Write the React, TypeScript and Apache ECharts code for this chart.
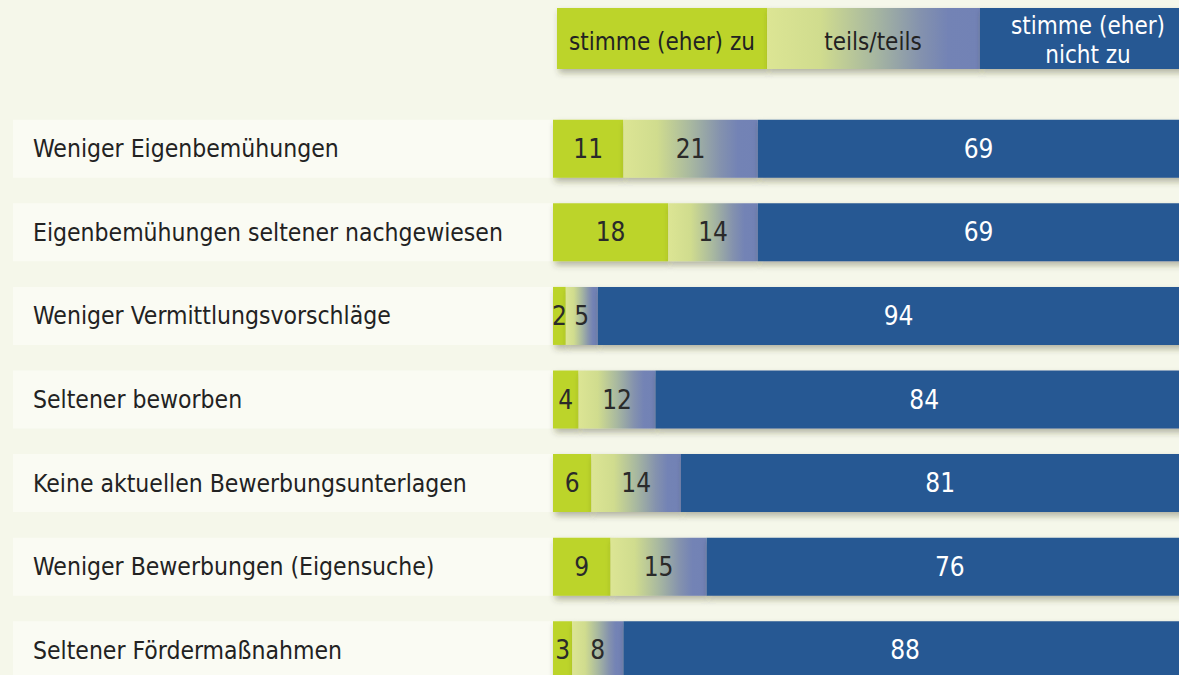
import React, { useEffect, useRef } from "react";
import * as echarts from "echarts";

const categories = [
  "Weniger Eigenbemühungen",
  "Eigenbemühungen seltener nachgewiesen",
  "Weniger Vermittlungsvorschläge",
  "Seltener beworben",
  "Keine aktuellen Bewerbungsunterlagen",
  "Weniger Bewerbungen (Eigensuche)",
  "Seltener Fördermaßnahmen",
];
const zuValues = [11, 18, 2, 4, 6, 9, 3];
const teilsValues = [21, 14, 5, 12, 14, 15, 8];
const nichtValues = [69, 69, 94, 84, 81, 76, 88];
const legendNames = ["stimme (eher) zu", "teils/teils", "stimme (eher)\nnicht zu"];

const FONT = "'Liberation Sans Narrow', 'DejaVu Sans Condensed', 'Noto Sans', sans-serif";
const GREEN = "#bcd42b";
const BLUE = "#285893";
const BG = "#f5f7ea";
const BOX = "#fafbf3";

const midGradient = () =>
  new echarts.graphic.LinearGradient(0, 0, 1, 0, [
    { offset: 0, color: "#dce594" },
    { offset: 0.25, color: "#d0dc8e" },
    { offset: 0.5, color: "#a8b8a0" },
    { offset: 0.72, color: "#8492ae" },
    { offset: 0.85, color: "#7383b5" },
    { offset: 1, color: "#7282b5" },
  ]);

export default function App() {
  const ref = useRef<HTMLDivElement>(null);
  useEffect(() => {
    const chart = echarts.init(ref.current!, null, { renderer: "svg" });
    const shadow = {
      shadowColor: "rgba(60,60,30,0.35)",
      shadowBlur: 6,
      shadowOffsetX: 2,
      shadowOffsetY: 4,
    };
    const labelBase = {
      show: true,
      position: "inside",
      fontFamily: FONT,
      fontSize: 26,
    };
    chart.setOption({
      animation: false,
      backgroundColor: BG,
      textStyle: { fontFamily: FONT },
      grid: {
        left: 553,
        top: 107,
        width: 640,
        height: 585,
        containLabel: false,
        outerBoundsMode: "none",
      },
      xAxis: {
        type: "value",
        min: 0,
        max: 100,
        show: false,
      },
      yAxis: {
        type: "category",
        data: categories,
        inverse: true,
        axisLine: { show: false },
        axisTick: { show: false },
        splitLine: { show: false },
        axisLabel: {
          margin: 540,
          align: "left",
          width: 526,
          height: 58,
          lineHeight: 62,
          padding: [0, 0, 0, 20],
          backgroundColor: BOX,
          color: "#222222",
          fontSize: 24.5,
          fontFamily: FONT,
          overflow: "none",
        },
      },
      graphic: [
        {
          type: "group",
          children: [
            {
              type: "rect",
              shape: { x: 557, y: 8, width: 210, height: 61 },
              style: { fill: GREEN, ...shadow },
            },
            {
              type: "rect",
              shape: { x: 767, y: 8, width: 213, height: 61 },
              style: { fill: midGradient(), ...shadow },
            },
            {
              type: "rect",
              shape: { x: 980, y: 8, width: 220, height: 61 },
              style: { fill: BLUE, ...shadow },
            },
            {
              type: "text",
              x: 662,
              y: 42,
              style: {
                text: legendNames[0],
                fill: "#222222",
                fontSize: 24,
                fontFamily: FONT,
                align: "center",
                verticalAlign: "middle",
              },
            },
            {
              type: "text",
              x: 873,
              y: 42,
              style: {
                text: legendNames[1],
                fill: "#222222",
                fontSize: 24,
                fontFamily: FONT,
                align: "center",
                verticalAlign: "middle",
              },
            },
            {
              type: "text",
              x: 1088,
              y: 40,
              style: {
                text: legendNames[2],
                fill: "#ffffff",
                fontSize: 24,
                lineHeight: 29,
                fontFamily: FONT,
                align: "center",
                verticalAlign: "middle",
              },
            },
          ],
        },
      ],
      series: [
        {
          name: legendNames[0],
          type: "bar",
          stack: "all",
          barWidth: 58,
          clip: false,
          data: zuValues,
          itemStyle: { color: GREEN, ...shadow },
          label: { ...labelBase, color: "#2a2a2a" },
        },
        {
          name: legendNames[1],
          type: "bar",
          stack: "all",
          barWidth: 58,
          clip: false,
          data: teilsValues,
          itemStyle: { color: midGradient(), ...shadow },
          label: { ...labelBase, color: "#2a2a2a" },
        },
        {
          name: legendNames[2],
          type: "bar",
          stack: "all",
          barWidth: 58,
          clip: false,
          data: nichtValues,
          itemStyle: { color: BLUE, ...shadow },
          label: { ...labelBase, color: "#ffffff" },
        },
      ],
    });
    return () => chart.dispose();
  }, []);
  return <div ref={ref} style={{ width: 1179, height: 675, position: "fixed", left: 0, top: 0 }} />;
}
